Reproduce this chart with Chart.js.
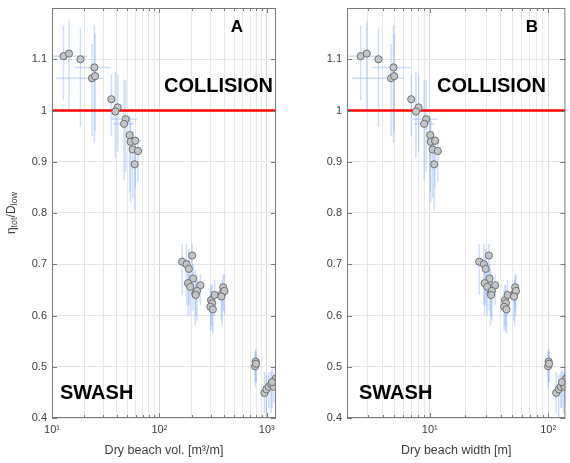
<!DOCTYPE html>
<html>
<head>
<meta charset="utf-8">
<script src="https://cdn.jsdelivr.net/npm/chart.js@4.4.1/dist/chart.umd.min.js"></script>
<style>
  html, body { margin: 0; padding: 0; background: #fff; }
  #wrapA { position: absolute; left: 0; top: 0; width: 290px; height: 463px; }
  #wrapB { position: absolute; left: 290px; top: 0; width: 280px; height: 463px; }
</style>
</head>
<body>
<div id="wrapA"><canvas id="chartA"></canvas></div>
<div id="wrapB"><canvas id="chartB"></canvas></div>
<script>
// eta_tot / D_low for every survey, same values in both panels
const eta = [1.106, 1.111, 1.100, 1.084, 1.063, 1.067, 1.022, 1.006, 0.998, 0.983, 0.974, 0.952, 0.939, 0.941, 0.924, 0.921, 0.895,
  0.705, 0.700, 0.717, 0.691, 0.672, 0.663, 0.656, 0.643, 0.659, 0.648, 0.640,
  0.630, 0.624, 0.617, 0.640, 0.612,
  0.655, 0.643, 0.648, 0.637,
  0.510, 0.501, 0.506,
  0.449, 0.456, 0.461, 0.466, 0.461, 0.477, 0.470];
const etaLow = [1.02, 1.00, 0.968, 0.937, 0.95, 0.96, 0.95, 0.92, 0.907, 0.88, 0.864, 0.84, 0.82, 0.85, 0.83, 0.86, 0.805,
  0.64, 0.62, 0.66, 0.62, 0.61, 0.60, 0.60, 0.58, 0.62, 0.59, 0.60,
  0.58, 0.57, 0.57, 0.60, 0.565,
  0.61, 0.58, 0.60, 0.59,
  0.47, 0.46, 0.47,
  0.41, 0.40, 0.42, 0.41, 0.43, 0.44, 0.42];
const etaHigh = [1.166, 1.175, 1.16, 1.166, 1.13, 1.15, 1.07, 1.07, 1.075, 1.06, 1.059, 0.99, 0.98, 0.95, 0.96, 0.94, 0.948,
  0.74, 0.74, 0.74, 0.73, 0.70, 0.70, 0.70, 0.69, 0.68, 0.68, 0.67,
  0.66, 0.66, 0.65, 0.67, 0.64,
  0.68, 0.67, 0.68, 0.66,
  0.535, 0.53, 0.53,
  0.49, 0.485, 0.49, 0.49, 0.49, 0.50, 0.495];

// panel A: dry beach volume [m3/m]
const dryVolume = [12.8, 14.4, 18.4, 24.8, 23.6, 25.2, 35.7, 40.9, 38.9, 48.5, 46.9, 52.9, 54.0, 59.7, 56.4, 63.3, 58.9,
  163, 179, 202, 188, 206, 185, 194, 216, 241, 224, 218,
  303, 310, 299, 327, 315,
  393, 384, 404, 378,
  789, 779, 795,
  952, 993, 1045, 1099, 1161, 1213, 1120];
const volLow = [10, null, null, 16.1, 10.8, null, null, null, null, 36, 37, null, null, 52, null, null, null];
const volHigh = [21.5, null, null, 35, 30, null, null, null, null, 62, 58, null, null, 68, null, null, null];

// panel B: dry beach width [m]
const dryWidth = [2.61, 2.94, 3.69, 4.94, 4.71, 5.01, 6.98, 8.05, 7.64, 9.32, 8.97, 10.1, 10.2, 11.1, 10.6, 11.7, 10.9,
  26.2, 28.7, 31.6, 29.7, 32.0, 29.1, 30.6, 32.7, 35.7, 33.5, 33.0,
  43.2, 44.0, 42.5, 45.5, 44.5,
  52.7, 52.0, 53.5, 51.5,
  101, 100, 102,
  117, 123, 128, 135, 138, 142, 131];
const widthLow = [2.05, null, null, 3.27, 2.18, null, null, null, null, 7.13, 7.4, null, null, 10.3, null, null, null];
const widthHigh = [3.57, null, null, 6.9, 6.07, null, null, null, null, 11.5, 11.0, null, null, 12.3, null, null, null];

const collisionLevel = 1;
const supDigits = ['⁰', '¹', '²', '³', '⁴', '⁵', '⁶', '⁷', '⁸', '⁹'];

const FONT = "'Liberation Sans', Arial, Helvetica, sans-serif";
const TEXT = '#404040';

function logTicks(min, max) {
  const out = [];
  for (let e = Math.floor(Math.log10(min)); e <= Math.ceil(Math.log10(max)); e++) {
    for (let m = 1; m <= 9; m++) {
      const v = m * Math.pow(10, e);
      if (v >= min - 1e-9 && v <= max + 1e-9) out.push({ value: v, major: m === 1 });
    }
  }
  return out;
}

function isDecade(v) {
  const e = Math.log10(v);
  return Math.abs(e - Math.round(e)) < 1e-6;
}

const errorBars = {
  id: 'errorBars',
  beforeDatasetsDraw(chart, args, opts) {
    const { ctx, chartArea } = chart;
    const xs = chart.scales.x, ys = chart.scales.y;
    ctx.save();
    ctx.beginPath();
    ctx.rect(chartArea.left, chartArea.top, chartArea.right - chartArea.left, chartArea.bottom - chartArea.top);
    ctx.clip();
    ctx.strokeStyle = 'rgba(110, 155, 245, 0.33)';
    ctx.lineWidth = 1.5;
    opts.x.forEach((x, i) => {
      const px = xs.getPixelForValue(x);
      ctx.beginPath();
      ctx.moveTo(px, ys.getPixelForValue(etaLow[i]));
      ctx.lineTo(px, ys.getPixelForValue(etaHigh[i]));
      ctx.stroke();
      if (opts.lo[i] != null) {
        const py = ys.getPixelForValue(eta[i]);
        ctx.beginPath();
        ctx.moveTo(xs.getPixelForValue(opts.lo[i]), py);
        ctx.lineTo(xs.getPixelForValue(opts.hi[i]), py);
        ctx.stroke();
      }
    });
    // collision threshold
    const ry = ys.getPixelForValue(collisionLevel);
    ctx.strokeStyle = '#ff0000';
    ctx.lineWidth = 2.5;
    ctx.beginPath();
    ctx.moveTo(chartArea.left, ry);
    ctx.lineTo(chartArea.right, ry);
    ctx.stroke();
    ctx.restore();
  }
};

const panelDecor = {
  id: 'panelDecor',
  afterDatasetsDraw(chart, args, opts) {
    const { ctx, chartArea: a } = chart;
    const xs = chart.scales.x, ys = chart.scales.y;
    ctx.save();
    // box
    ctx.strokeStyle = '#7a7a7a';
    ctx.lineWidth = 1;
    ctx.strokeRect(a.left + 0.5, a.top + 0.5, a.right - a.left - 1, a.bottom - a.top - 1);
    // inward ticks
    ctx.beginPath();
    xs.ticks.forEach(t => {
      const px = Math.round(xs.getPixelForValue(t.value)) + 0.5;
      const len = t.major ? 5 : 3;
      ctx.moveTo(px, a.bottom); ctx.lineTo(px, a.bottom - len);
      ctx.moveTo(px, a.top); ctx.lineTo(px, a.top + len);
    });
    ys.ticks.forEach(t => {
      const py = Math.round(ys.getPixelForValue(t.value)) + 0.5;
      ctx.moveTo(a.left, py); ctx.lineTo(a.left + 5, py);
      ctx.moveTo(a.right, py); ctx.lineTo(a.right - 5, py);
    });
    ctx.stroke();

    // panel texts
    ctx.fillStyle = '#000';
    ctx.textBaseline = 'middle';
    ctx.font = 'bold 17px ' + FONT;
    ctx.textAlign = 'center';
    ctx.fillText(opts.letter, opts.letterX, 27);
    ctx.font = 'bold 20px ' + FONT;
    ctx.textAlign = 'left';
    ctx.fillText('COLLISION', opts.collisionX, 86);
    ctx.fillText('SWASH', opts.swashX, 393);

    // x title
    ctx.fillStyle = TEXT;
    ctx.font = '12.5px ' + FONT;
    ctx.textAlign = 'center';
    ctx.fillText(opts.xTitle, (a.left + a.right) / 2, 451);

    // y title with subscripts
    if (opts.yTitle) {
      ctx.translate(12, (a.top + a.bottom) / 2);
      ctx.rotate(-Math.PI / 2);
      const parts = [['η', 12, 0], ['tot', 9, 3], ['/D', 12, 0], ['low', 9, 3]];
      let total = 0;
      parts.forEach(p => { ctx.font = p[1] + 'px ' + FONT; total += ctx.measureText(p[0]).width; });
      let x = -total / 2;
      ctx.textAlign = 'left';
      parts.forEach(p => {
        ctx.font = p[1] + 'px ' + FONT;
        ctx.fillText(p[0], x, p[2]);
        x += ctx.measureText(p[0]).width;
      });
    }
    ctx.restore();
  }
};

function makeChart(id, xs, lo, hi, xmin, xmax, axisWidth, rightPad, decor) {
  new Chart(document.getElementById(id), {
    type: 'scatter',
    data: {
      datasets: [{
        data: xs.map((x, i) => ({ x: x, y: eta[i] })),
        pointRadius: 3.6,
        pointHoverRadius: 3.6,
        backgroundColor: '#c2c5c9',
        borderColor: '#6f6f6f',
        borderWidth: 1
      }]
    },
    plugins: [errorBars, panelDecor],
    options: {
      responsive: true,
      maintainAspectRatio: false,
      animation: false,
      layout: { padding: { left: 0, right: rightPad, top: 8, bottom: 0 } },
      scales: {
        x: {
          type: 'logarithmic',
          min: xmin,
          max: xmax,
          afterBuildTicks: s => { s.ticks = logTicks(xmin, xmax); },
          afterFit: s => { s.height = 45; },
          border: { display: false },
          grid: {
            drawTicks: false,
            color: c => (c.tick && isDecade(c.tick.value)) ? '#dadada' : '#e8e8e8'
          },
          ticks: {
            autoSkip: false,
            maxRotation: 0,
            padding: 5,
            color: TEXT,
            font: { family: FONT, size: 11 },
            callback: v => isDecade(v) ? '10' + supDigits[Math.round(Math.log10(v))] : ''
          }
        },
        y: {
          min: 0.4,
          max: 1.2,
          afterFit: s => { s.width = axisWidth; s.paddingTop = 0; },
          border: { display: false },
          grid: { drawTicks: false, color: '#e5e5e5' },
          ticks: {
            stepSize: 0.1,
            padding: 5,
            color: TEXT,
            font: { family: FONT, size: 11 },
            callback: v => v > 1.15 ? null : String(+v.toFixed(1))
          }
        }
      },
      plugins: {
        legend: { display: false },
        tooltip: { enabled: false },
        errorBars: { x: xs, lo: lo, hi: hi },
        panelDecor: decor
      }
    }
  });
}

makeChart('chartA', dryVolume, volLow, volHigh, 10, 1220, 52, 14,
  { letter: 'A', letterX: 237, collisionX: 164, swashX: 60, xTitle: 'Dry beach vol. [m³/m]', yTitle: true });
makeChart('chartB', dryWidth, widthLow, widthHigh, 2, 140, 57, 1,
  { letter: 'B', letterX: 242, collisionX: 147, swashX: 69, xTitle: 'Dry beach width [m]', yTitle: false });
</script>
</body>
</html>
